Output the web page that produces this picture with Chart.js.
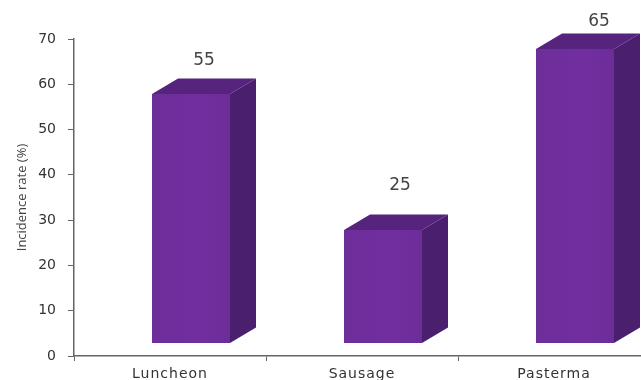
<!DOCTYPE html>
<html>
<head>
<meta charset="utf-8">
<script src="https://cdn.jsdelivr.net/npm/chart.js@4"></script>
<style>
  html, body { margin: 0; padding: 0; background: #fff; overflow: hidden; }
  canvas { display: block; }
</style>
</head>
<body>
<canvas id="chart" width="660" height="380"></canvas>
<script>
const categories = ['Luncheon', 'Sausage', 'Pasterma']
const incidence = [55, 25, 65]
const yTicks = [0, 10, 20, 30, 40, 50, 60, 70]

// the boxes sit up and right of the axis, like an office 3d column chart
const frontShiftX = 21
const frontShiftY = -12.5
const depthX = 26
const depthY = -15.5
// value labels were placed by hand in the original, relative to the front top
const labelShift = [[13, -33], [17, -44], [24, -27]]

const box3d = {
  id: 'box3d',
  afterDatasetsDraw(chart) {
    const c = chart.ctx
    chart.getDatasetMeta(0).data.forEach((bar, i) => {
      const w = Math.round(bar.width)
      const l = Math.round(bar.x - w / 2 + frontShiftX)
      const r = l + w
      const t = Math.round(bar.y + frontShiftY)
      const b = Math.round(bar.base + frontShiftY)

      c.save()
      const grad = c.createLinearGradient(l, 0, r, 0)
      grad.addColorStop(0, '#6d2e9a')
      grad.addColorStop(0.6, '#712e9f')
      grad.addColorStop(1, '#6c2d99')
      c.fillStyle = grad
      c.fillRect(l, t, w, b - t)

      // right side
      c.fillStyle = '#4a206e'
      c.beginPath()
      c.moveTo(r, t)
      c.lineTo(r + depthX, t + depthY)
      c.lineTo(r + depthX, b + depthY)
      c.lineTo(r, b)
      c.closePath()
      c.fill()

      // top
      c.fillStyle = '#56237d'
      c.beginPath()
      c.moveTo(l, t)
      c.lineTo(l + depthX, t + depthY)
      c.lineTo(r + depthX, t + depthY)
      c.lineTo(r, t)
      c.closePath()
      c.fill()

      c.fillStyle = '#444'
      c.font = '17px "DejaVu Sans"'
      c.textAlign = 'center'
      c.textBaseline = 'middle'
      c.fillText(incidence[i], l + w / 2 + labelShift[i][0], t + labelShift[i][1])
      c.restore()
    })

    // category labels are spaced out in the original, the scale can't do that
    const xScale = chart.scales.x
    c.save()
    c.fillStyle = '#333'
    c.font = '14px "DejaVu Sans"'
    c.letterSpacing = '1px'
    c.textAlign = 'center'
    c.textBaseline = 'middle'
    categories.forEach((name, i) => {
      c.fillText(name, xScale.getPixelForValue(i), xScale.bottom - 6)
    })
    c.restore()
  }
}

new Chart(document.getElementById('chart').getContext('2d'), {
  type: 'bar',
  data: {
    labels: categories,
    datasets: [
      {
        data: incidence,
        backgroundColor: 'transparent',
        categoryPercentage: 1,
        barPercentage: 0.404
      }
    ]
  },
  options: {
    responsive: false,
    animation: false,
    layout: { padding: { top: 39, right: 10, left: 0, bottom: 0 } },
    plugins: {
      legend: { display: false },
      tooltip: { enabled: false }
    },
    scales: {
      x: {
        afterFit: (s) => { s.height = 24 },
        border: { color: '#666', width: 1.5 },
        grid: { drawOnChartArea: false, color: '#666', tickLength: 5, lineWidth: 1 },
        ticks: { display: false }
      },
      y: {
        min: 0,
        max: 70,
        afterFit: (s) => { s.width = 74 },
        afterBuildTicks: (s) => { s.ticks = yTicks.map((v) => ({ value: v })) },
        border: { color: '#666', width: 1.5 },
        grid: { drawOnChartArea: false, color: '#666', tickLength: 6, lineWidth: 1 },
        ticks: {
          color: '#333',
          padding: 12,
          font: { family: 'DejaVu Sans', size: 14 }
        },
        title: {
          display: true,
          text: 'Incidence rate (%)',
          color: '#444',
          padding: { top: 14, bottom: 0 },
          font: { family: 'Open Sans', size: 13 }
        }
      }
    }
  },
  plugins: [box3d]
})
</script>
</body>
</html>
